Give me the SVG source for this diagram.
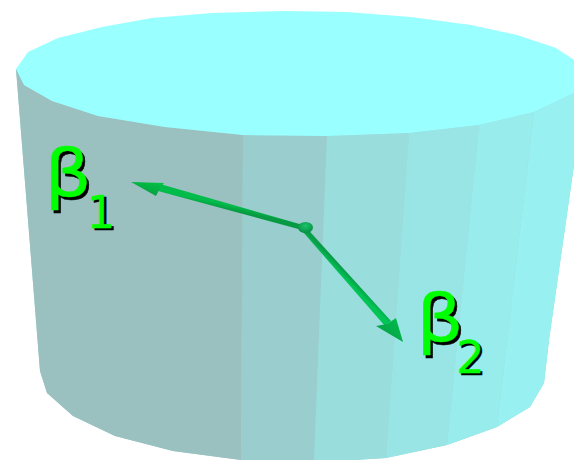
<svg xmlns="http://www.w3.org/2000/svg" width="574" height="460" viewBox="0 0 574 460">
<style>
.g{font-family:"DejaVu Sans",sans-serif;fill:#00ff00;stroke:#00ff00}
.s{font-family:"DejaVu Sans",sans-serif;fill:#000;stroke:#000}
.b{font-size:66px;stroke-width:.5}
.n{font-size:45px;stroke-width:.3}
</style>
<defs>
<radialGradient id="ball" cx="0.5" cy="0.35" r="0.7"><stop offset="0" stop-color="#1cc46c"/><stop offset="1" stop-color="#048a3e"/></radialGradient>
<linearGradient id="h1" gradientUnits="userSpaceOnUse" x1="150" y1="180" x2="146" y2="196"><stop offset="0" stop-color="#00c444"/><stop offset="1" stop-color="#089a40"/></linearGradient>
<linearGradient id="h2" gradientUnits="userSpaceOnUse" x1="396" y1="318" x2="380" y2="334"><stop offset="0" stop-color="#00bc4c"/><stop offset="1" stop-color="#08a046"/></linearGradient>
<linearGradient id="s1" gradientUnits="userSpaceOnUse" x1="230" y1="205" x2="229" y2="210"><stop offset="0" stop-color="#00bc4a"/><stop offset="1" stop-color="#089a42"/></linearGradient>
<linearGradient id="s2" gradientUnits="userSpaceOnUse" x1="348" y1="274" x2="344" y2="278"><stop offset="0" stop-color="#089e48"/><stop offset="1" stop-color="#00c454"/></linearGradient>
</defs>
<rect width="574" height="460" fill="#fff"/>
<g id="cylinder">
<polygon fill="#99d4d4" points="16,69 40,371 47,393 73,416 115,436 173,451 241,460 354,460 386,458 447,445 497,427 530,407 544,383 549,340 569,200 574,165 574,93 243,135"/>
<polygon fill="#9bc0c0" points="16,69 24,85 52,101 98,116 165,127 243,135 241,460 173,451 115,436 73,416 47,393 40,371"/>
<polygon fill="#9acdcd" points="243,135 327,136 314,460 241,460"/>
<polygon fill="#99dddd" points="327,136 409,133 386,458 354,460 314,460"/>
<polygon fill="#99e4e4" points="409,133 479,125 447,445 386,458"/>
<polygon fill="#99ecec" points="479,125 534,112 497,427 447,445"/>
<polygon fill="#99f0f0" points="534,112 574,93 574,165 569,200 549,340 544,383 530,407 497,427"/>
<polygon fill="#99ffff" points="16,69 28,52 58,38 102,27 152,18 212,13 284,11 347,12 411,17 471,25 517,35 556,48 574,60 574,93 534,112 479,125 409,133 327,136 243,135 165,127 98,116 52,101 24,85"/>
</g>
<g id="connectors">
<polygon points="303,225 160,184 158,191 302,230" fill="url(#s1)"/>
<polygon points="131,182 164,183 160,188 156,196" fill="url(#h1)"/>
<polygon points="307.500,229 391,321 385,326 303,232" fill="url(#s2)"/>
<polygon points="403,342 376,326 387,324 396,318" fill="url(#h2)"/>
</g>
<g id="origin"><ellipse cx="305.500" cy="227.500" rx="7.500" ry="5.500" fill="url(#ball)"/></g>
<g id="beta1">
<text class="s b" transform="translate(47,199) scale(1.12,1)">β</text>
<text class="s n" x="89" y="230">1</text>
<text class="g b" transform="translate(44.500,196) scale(1.12,1)">β</text>
<text class="g n" x="86.500" y="228">1</text>
</g>
<g id="beta2">
<text class="s b" transform="translate(419,344) scale(1.12,1)">β</text>
<text class="s n" x="458" y="375">2</text>
<text class="g b" transform="translate(416.500,341) scale(1.12,1)">β</text>
<text class="g n" x="456" y="373">2</text>
</g>
</svg>
